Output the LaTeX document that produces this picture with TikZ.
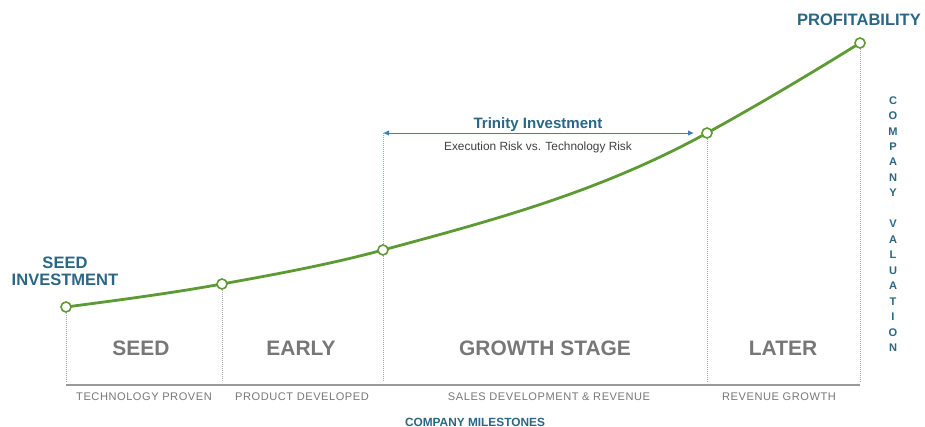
\documentclass[tikz,border=0pt]{standalone}
\usepackage{fontspec}
\setmainfont{Liberation Sans}
\usepackage{xcolor}
\usepackage{tikz}
\usetikzlibrary{arrows.meta}

\definecolor{curvegreen}{HTML}{5E9A33}
\definecolor{titleblue}{HTML}{2A6685}
\definecolor{arrowblue}{HTML}{3C7CC2}
\definecolor{stagegray}{HTML}{777777}

\tikzset{
  milestone/.style={circle, draw=curvegreen, fill=white, line width=1.2pt, inner sep=0pt, minimum size=7.5pt},
  stagelabel/.style={text=stagegray, font=\fontsize{15.7}{16}\selectfont\bfseries},
  steplabel/.style={text=stagegray, font=\fontsize{8.3}{9}\selectfont\addfontfeatures{LetterSpace=5}},
  divider/.style={gray!70, densely dotted, line width=0.5pt},
  headlabel/.style={text=titleblue, font=\fontsize{12.4}{13}\selectfont\bfseries, align=center},
}

\begin{document}
\begin{tikzpicture}[x=0.75pt, y=-0.75pt]
            \useasboundingbox (0,0) rectangle (925,427);
            % Curve points
            \coordinate (c1) at (66,307);
            \coordinate (c2) at (222,284);
            \coordinate (c3) at (383,250);
            \coordinate (c4) at (707,133);
            \coordinate (c5) at (860,43);
            \draw[curvegreen, line width=2.1pt] (c1) .. controls +(52,-6.8) and +(-52,9.4) .. (c2)
                .. controls +(53.7,-9.7) and +(-53.7,14.5) .. (c3)
                .. controls +(108,-29.2) and +(-108,59.4) .. (c4)
                .. controls +(51,-28) and +(-51,31.6) .. (c5);
            % Dividers
            \coordinate (b1) at (66,382);
            \coordinate (b2) at (222,382);
            \coordinate (b3) at (383,382);
            \coordinate (b4) at (707,382);
            \coordinate (b5) at (860,382);
            \coordinate (t3) at (383,133);
            \draw[divider] (c1) -- (b1);
            \draw[divider] (c2) -- (b2);
            \draw[divider] (c3) -- (b3);
            \draw[divider] (c4) -- (b4);
            \draw[divider] (c5) -- (b5);
            \draw[arrowblue!60, densely dotted, line width=0.5pt] (t3) -- (c3);
            % Milestone circles
            \node[milestone] (m1) at (c1) {};
            \node[milestone] (m2) at (c2) {};
            \node[milestone] (m3) at (c3) {};
            \node[milestone] (m4) at (c4) {};
            \node[milestone] (m5) at (c5) {};
            % Axis
            \coordinate (axl) at (66,385);
            \coordinate (axr) at (860,385);
            \draw[gray!80, line width=1.1pt] (axl) -- (axr);
            % Stages
            \node[stagelabel] (seed) at (141,348) {SEED};
            \node[stagelabel] (early) at (301,348) {EARLY};
            \node[stagelabel] (growth) at (545,348) {GROWTH STAGE};
            \node[stagelabel] (later) at (783,348) {LATER};
            % Steps
            \node[steplabel] (proven) at (144,397) {TECHNOLOGY PROVEN};
            \node[steplabel] (developed) at (302,397) {PRODUCT DEVELOPED};
            \node[steplabel] (sales) at (549,397) {SALES DEVELOPMENT \& REVENUE};
            \node[steplabel] (revenue) at (779,397) {REVENUE GROWTH};
            \node[text=titleblue, font=\fontsize{8.9}{9}\selectfont\bfseries] (milestones) at (475,422) {COMPANY MILESTONES};
            % Ends of the curve
            \node[headlabel] (seedinv) at (65,271) {SEED\\INVESTMENT};
            \node[headlabel] (profit) at (859,20) {PROFITABILITY};
            \node[text=titleblue, font=\fontsize{8.3}{11.6}\selectfont\bfseries, align=center] (valuation) at (893,224) {C\\O\\M\\P\\A\\N\\Y\\ \\V\\A\\L\\U\\A\\T\\I\\O\\N};
            % Trinity
            \coordinate (t4) at (694,133);
            \draw[arrowblue, line width=0.7pt, {Latex[length=4.5pt,width=4pt]}-{Latex[length=4.5pt,width=4pt]}] (t3) -- (t4);
            \node[text=titleblue, font=\fontsize{11.3}{12}\selectfont\bfseries] (trinity) at (538,125) {Trinity Investment};
            \node[text=black!75, font=\fontsize{8.9}{9}\selectfont] (risk) at (538,147) {Execution Risk vs. Technology Risk};
\end{tikzpicture}
\end{document}
